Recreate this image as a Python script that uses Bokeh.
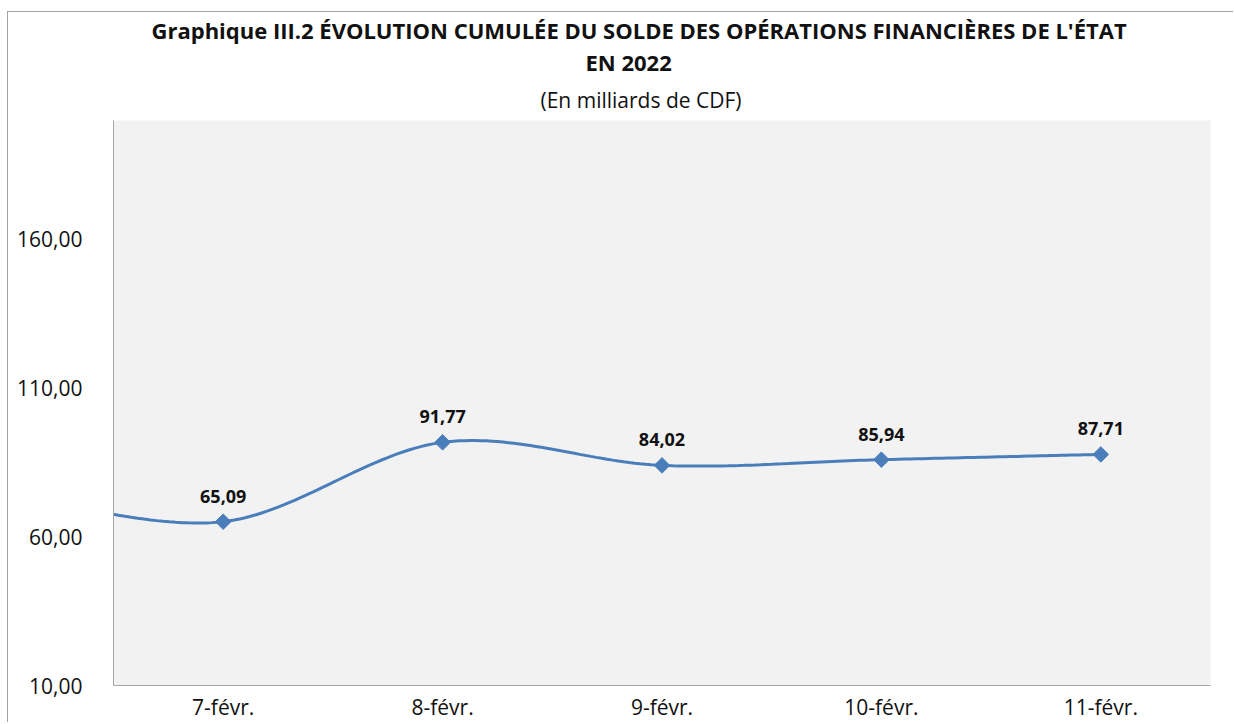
import math
from bokeh.plotting import figure
from bokeh.models import Title, FixedTicker, ColumnDataSource, LabelSet, Range1d
from bokeh.core.properties import value
from bokeh.embed import file_html
from bokeh.resources import INLINE

# ---- data ----
categories = ["7-févr.", "8-févr.", "9-févr.", "10-févr.", "11-févr."]
values = [65.09, 91.77, 84.02, 85.94, 87.71]
value_labels = ["65,09", "91,77", "84,02", "85,94", "87,71"]
lead_value = 75.0  # previous (off-chart) point, line enters from the left edge
y_ticks = [10, 60, 110, 160]
y_tick_labels = ["10,00", "60,00", "110,00", "160,00"]

BLUE = "#4a7ebb"
FONT = "Open Sans"
TXT = "#111111"

xs = list(range(len(categories)))

# smoothed line (Excel-like Catmull-Rom Bezier) through the points
px = [-1] + xs
py = [lead_value] + values
n = len(px)
def P(i):
    i = max(0, min(n - 1, i))
    return px[i], py[i]
sx, sy = [], []
for i in range(n - 1):
    x0, y0 = P(i); x3, y3 = P(i + 1)
    xm, ym = P(i - 1) if i > 0 else P(i)
    xp, yp = P(i + 2)
    c1 = (x0 + (x3 - xm) / 6, y0 + (y3 - ym) / 6)
    c2 = (x3 - (xp - x0) / 6, y3 - (yp - y0) / 6)
    for k in range(40):
        t = k / 40
        a, b, c, d = (1 - t) ** 3, 3 * (1 - t) ** 2 * t, 3 * (1 - t) * t ** 2, t ** 3
        sx.append(a * x0 + b * c1[0] + c * c2[0] + d * x3)
        sy.append(a * y0 + b * c1[1] + c * c2[1] + d * y3)
sx.append(px[-1]); sy.append(py[-1])

p = figure(width=1226, height=711, output_backend="svg", toolbar_location=None,
           x_range=Range1d(-0.5, len(categories) - 0.5), y_range=Range1d(10, 200),
           min_border_left=105, min_border_right=24, min_border_bottom=37, min_border_top=22)
p.background_fill_color = "#f2f2f2"
p.border_fill_color = "white"
p.outline_line_color = None
p.grid.grid_line_color = None

p.add_layout(Title(text="(En milliards de CDF)", text_font=FONT, text_font_size="21px",
                   text_font_style="normal", align="left", offset=427,
                   text_color=TXT, standoff=14, text_line_height=0.8), "above")
p.add_layout(Title(text="EN 2022", text_font=FONT, text_font_size="22px", text_font_style="bold",
                   align="left", offset=472, text_color=TXT, standoff=0, text_line_height=0.8), "above")
p.add_layout(Title(text="Graphique III.2 ÉVOLUTION CUMULÉE DU SOLDE  DES OPÉRATIONS FINANCIÈRES DE L'ÉTAT",
                   text_font=FONT, text_font_size="22px", text_font_style="bold",
                   align="left", offset=38, text_color=TXT, standoff=0, text_line_height=1.0), "above")

p.line(sx, sy, line_color=BLUE, line_width=3)
src = ColumnDataSource(dict(x=xs, y=values, lab=value_labels))
p.scatter("x", "y", source=src, marker="square", angle=math.pi / 4, size=11,
          fill_color=BLUE, line_color=BLUE)
p.add_layout(LabelSet(x="x", y="y", text="lab", source=src, y_offset=19, text_align="center",
                      text_font=value(FONT), text_font_size="18px", text_font_style="bold",
                      text_color=TXT))

p.xaxis.ticker = FixedTicker(ticks=xs)
p.xaxis.major_label_overrides = {i: c for i, c in enumerate(categories)}
p.yaxis.ticker = FixedTicker(ticks=y_ticks)
p.yaxis.major_label_overrides = {t: l for t, l in zip(y_ticks, y_tick_labels)}
for ax in (p.xaxis, p.yaxis):
    ax.axis_line_color = "#a6a6a6"
    ax.major_tick_line_color = None
    ax.minor_tick_line_color = None
    ax.major_label_text_font = FONT
    ax.major_label_text_color = TXT
p.yaxis.major_label_text_font_size = "21px"
p.xaxis.major_label_text_font_size = "21px"
p.yaxis.major_label_standoff = 25
p.xaxis.major_label_standoff = 1
p.styles = {"margin-left": "7px", "margin-top": "11px",
            "border-top": "1px solid #a0a0a0", "border-left": "1px solid #a0a0a0"}

open("out.html", "w").write(file_html(p, INLINE))
